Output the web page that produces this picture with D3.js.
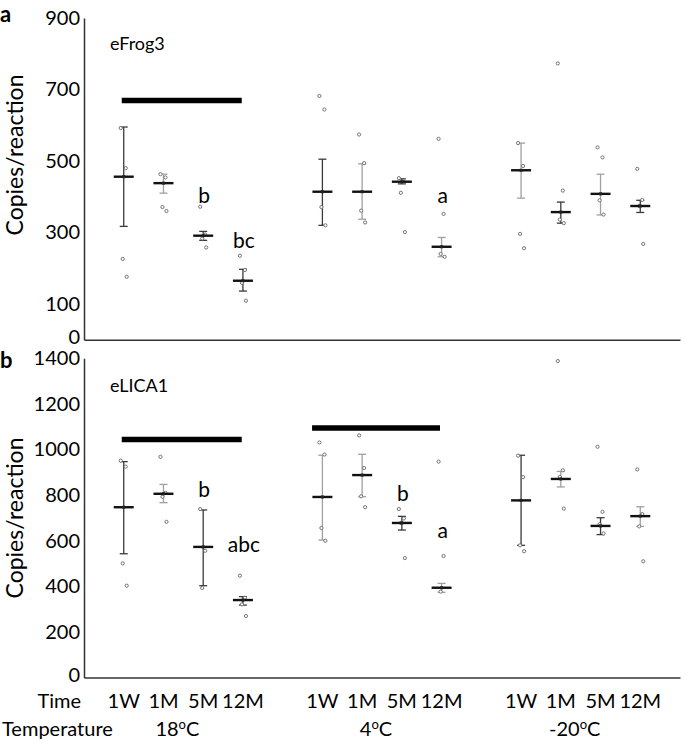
<!DOCTYPE html>
<html><head><meta charset="utf-8">
<script src="https://cdn.jsdelivr.net/npm/d3@7"></script>
<style>
body{margin:0;background:#fff}
svg{display:block}
text{font-family:Lato,"Open Sans",sans-serif;fill:#000}
</style>
</head><body>
<svg id="chart" width="685" height="742"></svg>
<script>
// ---------- data ----------
const timeLabels = ["1W","1M","5M","12M"];
const temperatures = ["18","4","-20"];
const frogTicks = [0,100,300,500,700,900];
const licaTicks = [0,200,400,600,800,1000,1200,1400];

// eFrog3 (12 = 3 temperatures x 4 times)
const frogMean  = [456,438,291,165, 414,414,442,260, 474,357,408,374];
const frogUpper = [595,463,303,197, 505,492,450,286, 550,385,463,390];
const frogLower = [317,410,278,136, 320,337,436,232, 396,326,349,356];
const frogPoints = [
  [592,480,226,176],[463,454,371,360],[372,294,283,258],[235,195,159,109],
  [682,644,371,320],[574,494,361,328],[452,442,411,301],[562,352,240,232],
  [550,486,296,256],[773,417,336,326],[538,510,390,350],[478,391,374,268]
];
// eLICA1
const licaMean  = [747,806,573,340, 792,888,678,394, 777,871,665,708];
const licaUpper = [947,847,735,355, 975,979,707,413, 975,904,701,749];
const licaLower = [543,767,403,318, 603,793,647,374, 580,836,627,663];
const licaPoints = [
  [951,925,501,403],[968,810,793,683],[739,556,393],[447,350,321,270],
  [1031,978,656,600],[1062,919,795,747],[739,698,678,524],[947,533,377],
  [973,879,580,554],[1388,909,880,741],[1012,727,672,632],[913,717,663,510]
];
// significance letters: [series index, text, value level]
const frogLetters = [[2,"b",383],[3,"bc",257],[7,"a",383]];
const licaLetters = [[2,"b",792],[3,"abc",551],[6,"b",776],[7,"a",612]];
// significance bars: [from slot, to slot, value level]
const frogBars = [[0.95,3.97,669]];
const licaBars = [[0.95,3.97,1044],[5.74,8.96,1094]];

// error-bar tone (style only)
const frogTone = ["d","l","d","d","d","l","d","l","l","d","l","d"];
const licaTone = ["d","l","d","d","l","l","d","l","d","l","d","l"];

// ---------- drawing ----------
const svg = d3.select("#chart");
const x = d3.scaleLinear().domain([0,15]).range([84,680]);
const slot = i => Math.floor(i/4)*5 + (i%4) + 1;
const jitter = [-3,2,-1,3,0];
const toneColor = {d:"#3a3a3a", l:"#a0a0a0"};

function panel(cfg){
  const y = d3.scaleLinear().domain(cfg.domain).range(cfg.range);
  const g = svg.append("g");
  // y axis
  const ya = g.append("g").attr("transform","translate(84,0)")
    .call(d3.axisLeft(y).tickValues(cfg.ticks).tickFormat(d3.format("d"))
      .tickSize(0).tickSizeOuter(0).tickPadding(4));
  ya.select(".domain").attr("stroke","#333").attr("stroke-width",1.5);
  ya.selectAll("text").attr("font-size",20).attr("font-family","Lato").attr("fill","#000")
    .attr("dy", d => d === 0 ? "0.18em" : "0.32em");
  // x axis line
  const xa = g.append("g").attr("transform",`translate(0,${y(0)})`)
    .call(d3.axisBottom(x).tickValues([]).tickSizeOuter(0));
  xa.select(".domain").attr("stroke","#333").attr("stroke-width",1.5);

  // significance bars
  g.selectAll(".sbar").data(cfg.bars).join("line")
    .attr("x1",d=>x(d[0])).attr("x2",d=>x(d[1]))
    .attr("y1",d=>y(d[2])).attr("y2",d=>y(d[2]))
    .attr("stroke","#000").attr("stroke-width",5.5);

  const idx = d3.range(cfg.mean.length);
  // error bars
  const eb = g.selectAll(".eb").data(idx).join("g")
    .attr("stroke",i=>toneColor[cfg.tone[i]]).attr("stroke-width",1.3);
  eb.append("line").attr("x1",i=>x(slot(i))).attr("x2",i=>x(slot(i)))
    .attr("y1",i=>y(cfg.upper[i])).attr("y2",i=>y(cfg.lower[i]));
  eb.append("line").attr("x1",i=>x(slot(i))-4).attr("x2",i=>x(slot(i))+4)
    .attr("y1",i=>y(cfg.upper[i])).attr("y2",i=>y(cfg.upper[i]));
  eb.append("line").attr("x1",i=>x(slot(i))-4).attr("x2",i=>x(slot(i))+4)
    .attr("y1",i=>y(cfg.lower[i])).attr("y2",i=>y(cfg.lower[i]));

  // points
  const pts = idx.flatMap(i => cfg.points[i].map((v,k)=>({i,v,k})));
  g.selectAll(".pt").data(pts).join("circle")
    .attr("cx",d=>x(slot(d.i))+jitter[d.k%jitter.length])
    .attr("cy",d=>y(d.v)).attr("r",1.6)
    .attr("fill","#fff").attr("stroke","#666").attr("stroke-width",0.9);

  // mean lines
  g.selectAll(".mean").data(idx).join("line")
    .attr("x1",i=>x(slot(i))-10).attr("x2",i=>x(slot(i))+10)
    .attr("y1",i=>y(cfg.mean[i])).attr("y2",i=>y(cfg.mean[i]))
    .attr("stroke","#111").attr("stroke-width",2.4);
  g.selectAll(".mdot").data(idx).join("rect")
    .attr("x",i=>x(slot(i))-1.5).attr("y",i=>y(cfg.mean[i])-1.5)
    .attr("width",3).attr("height",3).attr("fill","#222");

  // letters
  g.selectAll(".let").data(cfg.letters).join("text")
    .attr("x",d=>x(slot(d[0]))+1).attr("y",d=>y(d[2]))
    .attr("text-anchor","middle").attr("font-size",21).text(d=>d[1]);

  // gene name
  g.append("text").attr("x",110).attr("y",cfg.nameY).attr("font-size",18).text(cfg.name);
  // panel letter
  g.append("text").attr("x",0).attr("y",cfg.letterY).attr("font-size",22)
    .attr("font-weight","bold").text(cfg.panel);
  // y title
  g.append("text").attr("transform",`translate(23,${cfg.titleY}) rotate(-90)`)
    .attr("text-anchor","middle").attr("font-size",23).text("Copies/reaction");
}

panel({domain:[0,900],range:[339.7,18],ticks:frogTicks,mean:frogMean,upper:frogUpper,lower:frogLower,
  points:frogPoints,letters:frogLetters,bars:frogBars,tone:frogTone,name:"eFrog3",nameY:50,panel:"a",letterY:22,titleY:155});
panel({domain:[0,1400],range:[677.6,358.3],ticks:licaTicks,mean:licaMean,upper:licaUpper,lower:licaLower,
  points:licaPoints,letters:licaLetters,bars:licaBars,tone:licaTone,name:"eLICA1",nameY:392,panel:"b",letterY:368,titleY:518});

// bottom category labels
const bottom = svg.append("g");
bottom.append("text").attr("x",81).attr("y",708).attr("text-anchor","end").attr("font-size",20).text("Time");
bottom.append("text").attr("x",2).attr("y",736).attr("font-size",20).text("Temperature");
const catIdx = d3.range(12);
bottom.selectAll(".tl").data(catIdx).join("text")
  .attr("x",i=>x(slot(i))).attr("y",708).attr("text-anchor","middle").attr("font-size",20)
  .text(i=>timeLabels[i%4]);
const tt = bottom.selectAll(".temp").data(temperatures).join("text")
  .attr("x",(d,g)=>x(g*5+2.35)).attr("y",736).attr("text-anchor","middle").attr("font-size",20);
tt.append("tspan").text(d=>d);
tt.append("tspan").attr("dy",-7).attr("font-size",13).text("o");
tt.append("tspan").attr("dy",7).text("C");
</script>
</body></html>
